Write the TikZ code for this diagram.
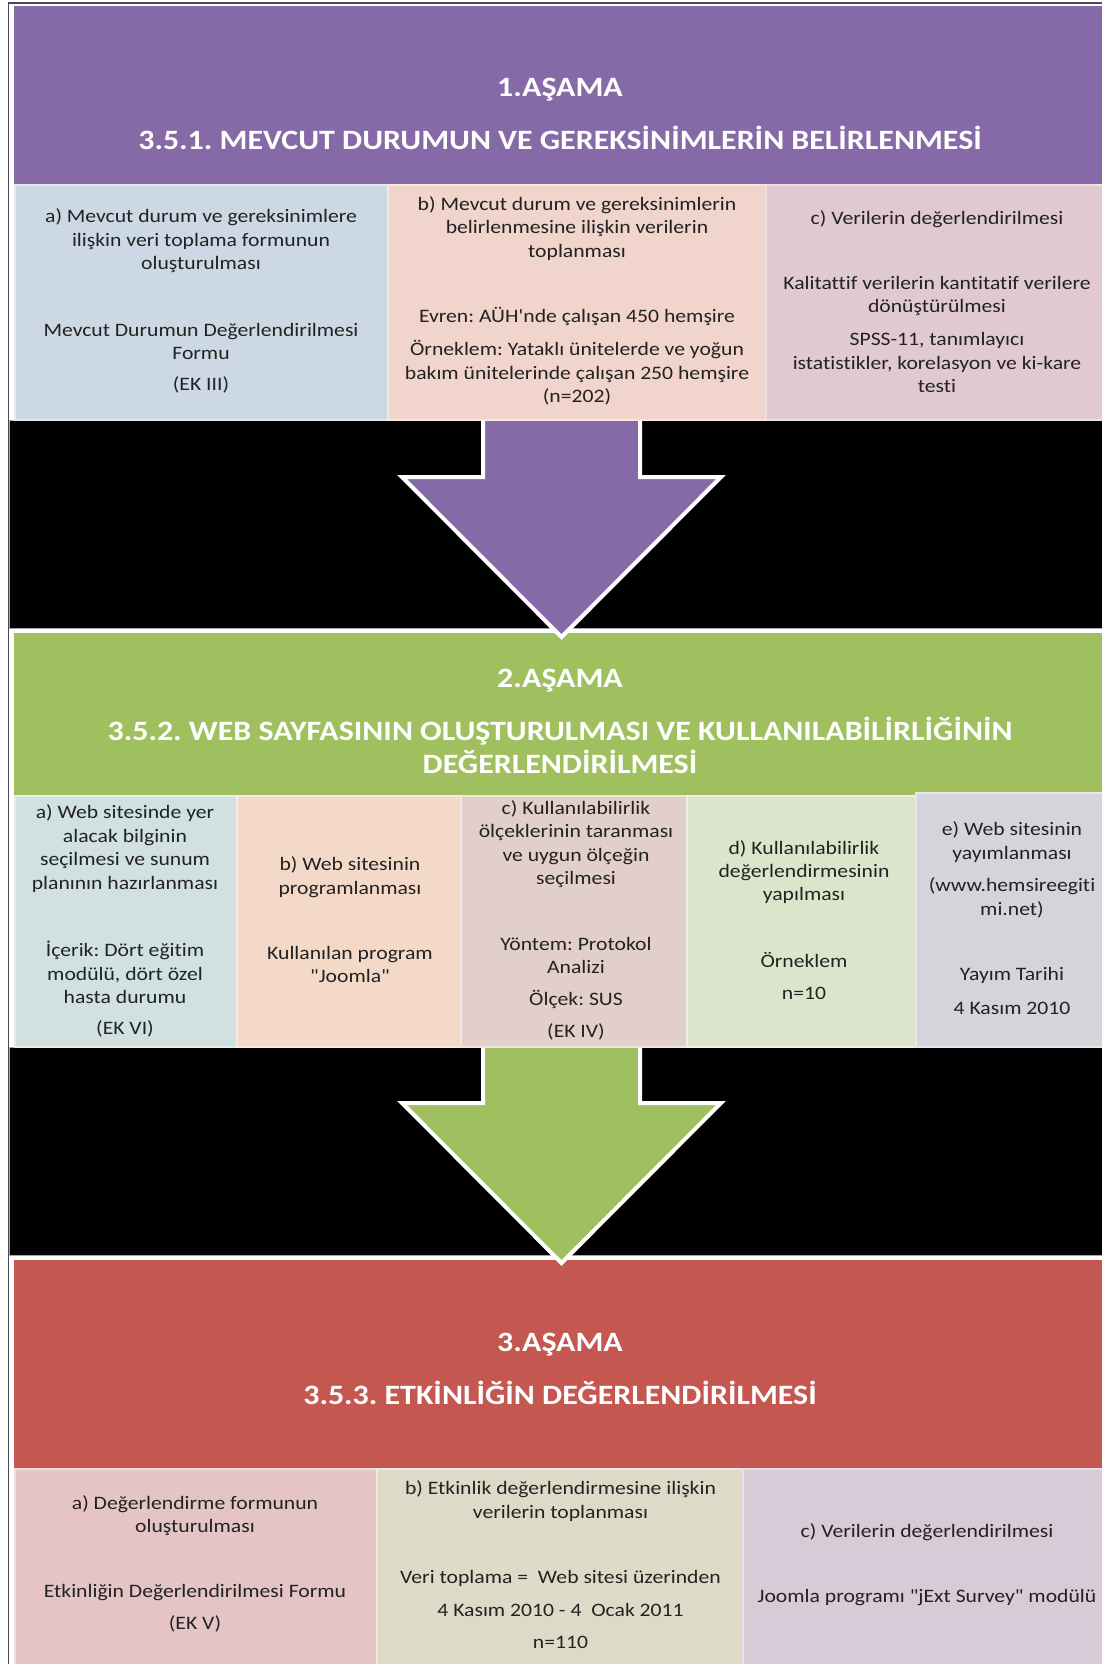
\documentclass[tikz,border=0pt]{standalone}
\usepackage{fontspec}
\setmainfont{Carlito}[FakeStretch=1.14, Ligatures={NoCommon,TeXOff}]
\frenchspacing
\definecolor{hpurple}{HTML}{8669A7}
\definecolor{hgreen}{HTML}{A0C060}
\definecolor{hred}{HTML}{C4574F}
\definecolor{txtcol}{HTML}{222222}
\definecolor{frame}{HTML}{4A4A58}
\definecolor{ca1}{HTML}{CCD8E3}
\definecolor{cb1}{HTML}{F1D4CC}
\definecolor{cc1}{HTML}{E0C9CF}
\definecolor{ca2}{HTML}{D0E1E0}
\definecolor{cb2}{HTML}{F4D9C9}
\definecolor{cc2}{HTML}{E2CFCA}
\definecolor{cd2}{HTML}{DCE5CB}
\definecolor{ce2}{HTML}{D7D3DA}
\definecolor{ca3}{HTML}{E5C4C6}
\definecolor{cb3}{HTML}{DDDBC8}
\definecolor{cc3}{HTML}{D9CAD7}
\tikzset{
  txt/.style={text=txtcol, align=center, inner sep=0pt, font=\fontsize{19}{23.4}\selectfont},
  htxt/.style={text=white, align=center, inner sep=0pt, font=\bfseries\fontsize{28}{33}\selectfont},
  cellbox/.style={fill=#1, draw=#1!55!white, line width=2pt},
  band/.style={fill=black, draw=gray!70, line width=1pt},
  blockarrow/.style={fill=#1, draw=white, line width=4pt, line join=miter},
}
\begin{document}
\begin{tikzpicture}[x=1pt,y=-1pt]
\useasboundingbox (0,0) rectangle (1102,1664);
\fill[white] (0,0) rectangle (1102,1664);
% frame
\draw[frame, line width=1.5pt] (8.5,1664) -- (8.5,3) -- (1102,3);
% black bands
\draw[band] (9.5,420) rectangle (1103,628.5);
\draw[band] (9.5,1047) rectangle (1103,1255.5);
% headers
\fill[hpurple] (14,6) rectangle (1102,184);
\fill[hgreen] (14,633) rectangle (1102,795);
\fill[hred] (14,1260) rectangle (1102,1468);
% arrows (behind the cell rows they start from)
\draw[blockarrow=hpurple] (483,405) -- (483,477) -- (402,477) -- (561.5,637) -- (721,477) -- (640,477) -- (640,405) -- cycle;
\draw[blockarrow=hgreen] (483,1035) -- (483,1103) -- (402,1103) -- (561.5,1263) -- (721,1103) -- (640,1103) -- (640,1035) -- cycle;
% row 1 cells
\draw[cellbox=ca1] (15,185) rectangle (388,420);
\draw[cellbox=cb1] (388,185) rectangle (766,420);
\draw[cellbox=cc1] (766,185) rectangle (1104,420);
% row 2 cells
\draw[cellbox=ca2] (15,796) rectangle (237,1047);
\draw[cellbox=cb2] (237,796) rectangle (461,1047);
\draw[cellbox=cc2] (461,796) rectangle (687,1047);
\draw[cellbox=cd2] (687,796) rectangle (916,1047);
\draw[cellbox=ce2] (916,793) rectangle (1104,1047);
% row 3 cells
\draw[cellbox=ca3] (15,1469) rectangle (377,1666);
\draw[cellbox=cb3] (377,1469) rectangle (743,1666);
\draw[cellbox=cc3] (743,1469) rectangle (1104,1666);
% header texts
\node[htxt] (h1a) at (560,90) {1.AŞAMA};
\node[htxt] (h1b) at (560,138) {3.5.1. MEVCUT DURUMUN VE GEREKSİNİMLERİN BELİRLENMESİ};
\node[htxt] (h2a) at (560,681) {2.AŞAMA};
\node[htxt] (h2b) at (560,745) {3.5.2. WEB SAYFASININ OLUŞTURULMASI VE KULLANILABİLİRLİĞİNİN\\DEĞERLENDİRİLMESİ};
\node[htxt] (h3a) at (560,1345) {3.AŞAMA};
\node[htxt] (h3b) at (560,1393) {3.5.3. ETKİNLİĞİN DEĞERLENDİRİLMESİ};
% row 1 texts
\node[txt] (r1a1) at (201,241) {a) Mevcut durum ve gereksinimlere\\ilişkin veri toplama formunun\\oluşturulması};
\node[txt] (r1a2) at (201,341.5) {Mevcut Durumun Değerlendirilmesi\\Formu};
\node[txt] (r1a3) at (201,385) {(EK III)};
\node[txt] (r1b1) at (577,228.5) {b) Mevcut durum ve gereksinimlerin\\belirlenmesine ilişkin verilerin\\toplanması};
\node[txt] (r1b2) at (577,316) {Evren: AÜH'nde çalışan 450 hemşire};
\node[txt] (r1b3) at (577,373) {Örneklem: Yataklı ünitelerde ve yoğun\\bakım ünitelerinde çalışan 250 hemşire\\(n=202)};
\node[txt] (r1c1) at (937,219) {c) Verilerin değerlendirilmesi};
\node[txt] (r1c2) at (937,296) {Kalitattif verilerin kantitatif verilere\\dönüştürülmesi};
\node[txt] (r1c3) at (937,362.5) {SPSS-11, tanımlayıcı\\istatistikler, korelasyon ve ki-kare\\testi};
% row 2 texts
\node[txt] (r2a1) at (125,848.5) {a) Web sitesinde yer\\alacak bilginin\\seçilmesi ve sunum\\planının hazırlanması};
\node[txt] (r2a2) at (125,972.5) {İçerik: Dört eğitim\\modülü, dört özel\\hasta durumu};
\node[txt] (r2a3) at (125,1029) {(EK VI)};
\node[txt] (r2b1) at (350,877) {b) Web sitesinin\\programlanması};
\node[txt] (r2b2) at (350,964.5) {Kullanılan program\\"Joomla"};
\node[txt] (r2c1) at (576,844) {c) Kullanılabilirlik\\ölçeklerinin taranması\\ve uygun ölçeğin\\seçilmesi};
\node[txt] (r2c2) at (576,955.5) {Yöntem: Protokol\\Analizi};
\node[txt] (r2c3) at (576,999) {Ölçek: SUS};
\node[txt] (r2c4) at (576,1032) {(EK IV)};
\node[txt] (r2d1) at (804,872) {d) Kullanılabilirlik\\değerlendirmesinin\\yapılması};
\node[txt] (r2d2) at (804,960) {Örneklem};
\node[txt] (r2d3) at (804,993) {n=10};
\node[txt] (r2e1) at (1012,842) {e) Web sitesinin\\yayımlanması};
\node[txt] (r2e2) at (1012,898) {(www.hemsireegiti\\mi.net)};
\node[txt] (r2e3) at (1012,975) {Yayım Tarihi};
\node[txt] (r2e4) at (1012,1008) {4 Kasım 2010};
% row 3 texts
\node[txt] (r3a1) at (195,1515.5) {a) Değerlendirme formunun\\oluşturulması};
\node[txt] (r3a2) at (195,1593) {Etkinliğin Değerlendirilmesi Formu};
\node[txt] (r3a3) at (195,1624) {(EK V)};
\node[txt] (r3b1) at (560.5,1501) {b) Etkinlik değerlendirmesine ilişkin\\verilerin toplanması};
\node[txt] (r3b2) at (560.5,1578) {Veri toplama =~~Web sitesi üzerinden};
\node[txt] (r3b3) at (560.5,1610) {4 Kasım 2010 - 4~~Ocak 2011};
\node[txt] (r3b4) at (560.5,1642) {n=110};
\node[txt] (r3c1) at (927,1532) {c) Verilerin değerlendirilmesi};
\node[txt] (r3c2) at (927,1598) {Joomla programı "jExt Survey" modülü};
\end{tikzpicture}
\end{document}
